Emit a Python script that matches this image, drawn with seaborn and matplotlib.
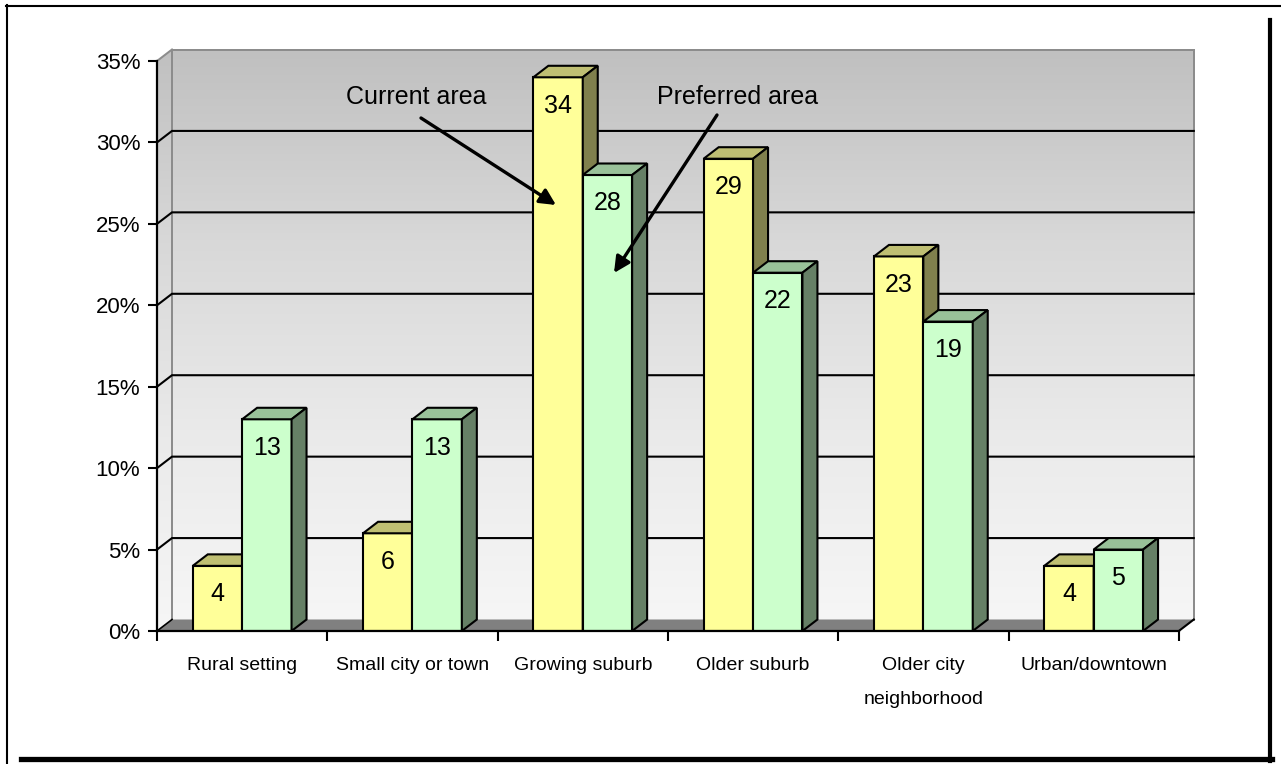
import numpy as np
import pandas as pd
import matplotlib
matplotlib.use("Agg")
import matplotlib.pyplot as plt
import seaborn as sns
from matplotlib.patches import Polygon
from matplotlib.lines import Line2D
from matplotlib.colors import LinearSegmentedColormap

# ---- data -------------------------------------------------------------
categories = ["Rural setting", "Small city or town", "Growing suburb",
              "Older suburb", "Older city\nneighborhood", "Urban/downtown"]
series_names = ["Current area", "Preferred area"]
current_area = [4, 6, 34, 29, 23, 4]
preferred_area = [13, 13, 28, 22, 19, 5]
y_ticks = [0, 5, 10, 15, 20, 25, 30, 35]
y_tick_labels = [f"{v}%" for v in y_ticks]

df = pd.DataFrame({
    "area": categories * 2,
    "share": current_area + preferred_area,
    "series": [series_names[0]] * len(categories) + [series_names[1]] * len(categories),
})

# ---- styling ------------------------------------------------------------
FRONT = ["#FFFF99", "#CCFFCC"]
TOP = ["#BFBF73", "#99C199"]
SIDE = ["#80804D", "#668066"]
REGULAR = ["Liberation Sans", "DejaVu Sans"]

W, H = 1281, 764
fig = plt.figure(figsize=(W / 100, H / 100), dpi=100)
fig.patch.set_facecolor("white")

# plot frame in pixel geometry
cat_px = 170.3
pct_px = 570 / 35
left_px, bottom_px, right_px, top_px = 157, 631, 1196, 49
ax = fig.add_axes([left_px / W, 1 - bottom_px / H,
                   (right_px - left_px) / W, (bottom_px - top_px) / H])

DX = 15 / cat_px          # depth offset along x (category units)
DY = 11.5 / pct_px        # depth offset along y (percent units)
X0, X1 = -0.5, len(categories) - 0.5
YMAX = 35

sns.barplot(data=df, x="area", y="share", hue="series", order=categories,
            hue_order=series_names, palette=FRONT, saturation=1, width=0.58,
            edgecolor="black", linewidth=1.5, errorbar=None, legend=False,
            ax=ax)

ax.set_xlim(X0, X0 + (right_px - left_px) / cat_px)
ax.set_ylim(0, (bottom_px - top_px) / pct_px)
for s in ax.spines.values():
    s.set_visible(False)
ax.set_facecolor("none")
ax.set_xlabel("")
ax.set_ylabel("")

# ---- back wall, side wall and floor -----------------------------------
wall_cmap = LinearSegmentedColormap.from_list(
    "wall", ["#F6F6F6", "#EAEAEA", "#D8D8D8", "#C0C0C0"])
grad = np.linspace(0, 1, 256).reshape(-1, 1)
ax.imshow(grad, extent=[X0 + DX, X1 + DX, DY, YMAX + DY], origin="lower",
          cmap=wall_cmap, aspect="auto", zorder=0.5)
side = Polygon([(X0, 0), (X0 + DX, DY), (X0 + DX, YMAX + DY), (X0, YMAX)],
               closed=True, facecolor="none", edgecolor="none")
ax.add_patch(side)
side_img = ax.imshow(grad, extent=[X0, X0 + DX, 0, YMAX + DY], origin="lower",
                     cmap=wall_cmap, aspect="auto", zorder=0.5)
side_img.set_clip_path(side)

ax.add_patch(Polygon([(X0, 0), (X1, 0), (X1 + DX, DY), (X0 + DX, DY)],
                     closed=True, facecolor="#808080", edgecolor="none",
                     zorder=0.8))

gray_lw = 2 * 0.72
ax.plot([X0 + DX, X0 + DX, X1 + DX, X1 + DX], [DY, YMAX + DY, YMAX + DY, DY],
        color="#8C8C8C", lw=gray_lw, zorder=0.9, clip_on=False,
        solid_joinstyle="miter")
ax.plot([X0, X0 + DX], [YMAX, YMAX + DY], color="#8C8C8C", lw=gray_lw,
        zorder=0.9, clip_on=False)

# gridlines across side and back wall
for v in y_ticks[1:-1]:
    ax.plot([X0, X0 + DX, X1 + DX], [v, v + DY, v + DY], color="black",
            lw=1.5, zorder=1, solid_joinstyle="miter")

# floor edges and front axes
ax.plot([X0, X0 + DX], [0, DY], color="black", lw=1.2, zorder=1)
ax.plot([X1, X1 + DX], [0, DY], color="black", lw=1.5, zorder=1, clip_on=False)
ax.plot([X0, X1], [0, 0], color="black", lw=1.6, zorder=6, clip_on=False)
ax.plot([X0, X0], [0, YMAX], color="black", lw=1.6, zorder=6, clip_on=False)

# ---- 3-D faces and value labels for each bar ---------------------------
for k, container in enumerate(ax.containers):
    base_z = 3 + k
    for bar in container:
        bar.set_zorder(base_z)
        x0, w, h = bar.get_x(), bar.get_width(), bar.get_height()
        x1 = x0 + w
        ax.add_patch(Polygon([(x0, h), (x1, h), (x1 + DX, h + DY), (x0 + DX, h + DY)],
                             closed=True, facecolor=TOP[k], edgecolor="black",
                             lw=1.5, zorder=base_z + 0.1, joinstyle="miter"))
        ax.add_patch(Polygon([(x1, 0), (x1, h), (x1 + DX, h + DY), (x1 + DX, DY)],
                             closed=True, facecolor=SIDE[k], edgecolor="black",
                             lw=1.5, zorder=base_z + 0.1, joinstyle="miter"))
        ax.text(x0 + w / 2, h - 1.75, f"{h:.0f}", ha="center", va="center",
                fontsize=18, family=REGULAR, zorder=8)

# ---- ticks ------------------------------------------------------------
ax.set_yticks(y_ticks, labels=y_tick_labels)
ax.tick_params(axis="y", direction="out", length=6.5, width=1.5, pad=5.5,
               color="black")
for lbl in ax.get_yticklabels():
    lbl.set_family(REGULAR)
    lbl.set_fontsize(16)

ax.set_xticks(np.arange(len(categories)), labels=categories)
ax.set_xticks(np.arange(X0, X1 + 0.01, 1.0), minor=True)
ax.tick_params(axis="x", which="major", length=0, pad=18.5)
ax.tick_params(axis="x", which="minor", direction="out", length=7, width=1.5,
               color="black")
for lbl in ax.get_xticklabels():
    lbl.set_family(REGULAR)
    lbl.set_fontsize(14)
    lbl.set_linespacing(2.3)
    lbl.set_verticalalignment("top")

# ---- callouts ------------------------------------------------------------
def px_to_data(px, py):
    return X0 + (px - left_px) / cat_px, (bottom_px - py) / pct_px

callouts = [
    (series_names[0], (416, 97), (421, 118), (556, 205)),
    (series_names[1], (738, 97), (717, 115), (614, 273)),
]
for label, txt_px, start_px, tip_px in callouts:
    ax.text(*px_to_data(*txt_px), label, ha="center", va="center",
            fontsize=18, family=REGULAR, zorder=9)
    ax.annotate("", xy=px_to_data(*tip_px), xytext=px_to_data(*start_px),
                arrowprops=dict(arrowstyle="-|>", color="black", lw=2.4,
                                mutation_scale=24, shrinkA=0, shrinkB=0),
                zorder=9)

# ---- outer frame with drop shadow --------------------------------------
def fx(px):
    return px / W

def fy(py):
    return 1 - py / H

fig.add_artist(Line2D([fx(6.5), fx(6.5)], [fy(5), fy(764)], color="black", lw=1.5))
fig.add_artist(Line2D([fx(6), fx(1281)], [fy(6), fy(6)], color="black", lw=1.5))
fig.add_artist(Line2D([fx(1270), fx(1270)], [fy(20), fy(761)], color="black", lw=3.0))
fig.add_artist(Line2D([fx(21), fx(1272)], [fy(758.5), fy(758.5)], color="black", lw=3.8))

fig.savefig("out.png", dpi=100)
